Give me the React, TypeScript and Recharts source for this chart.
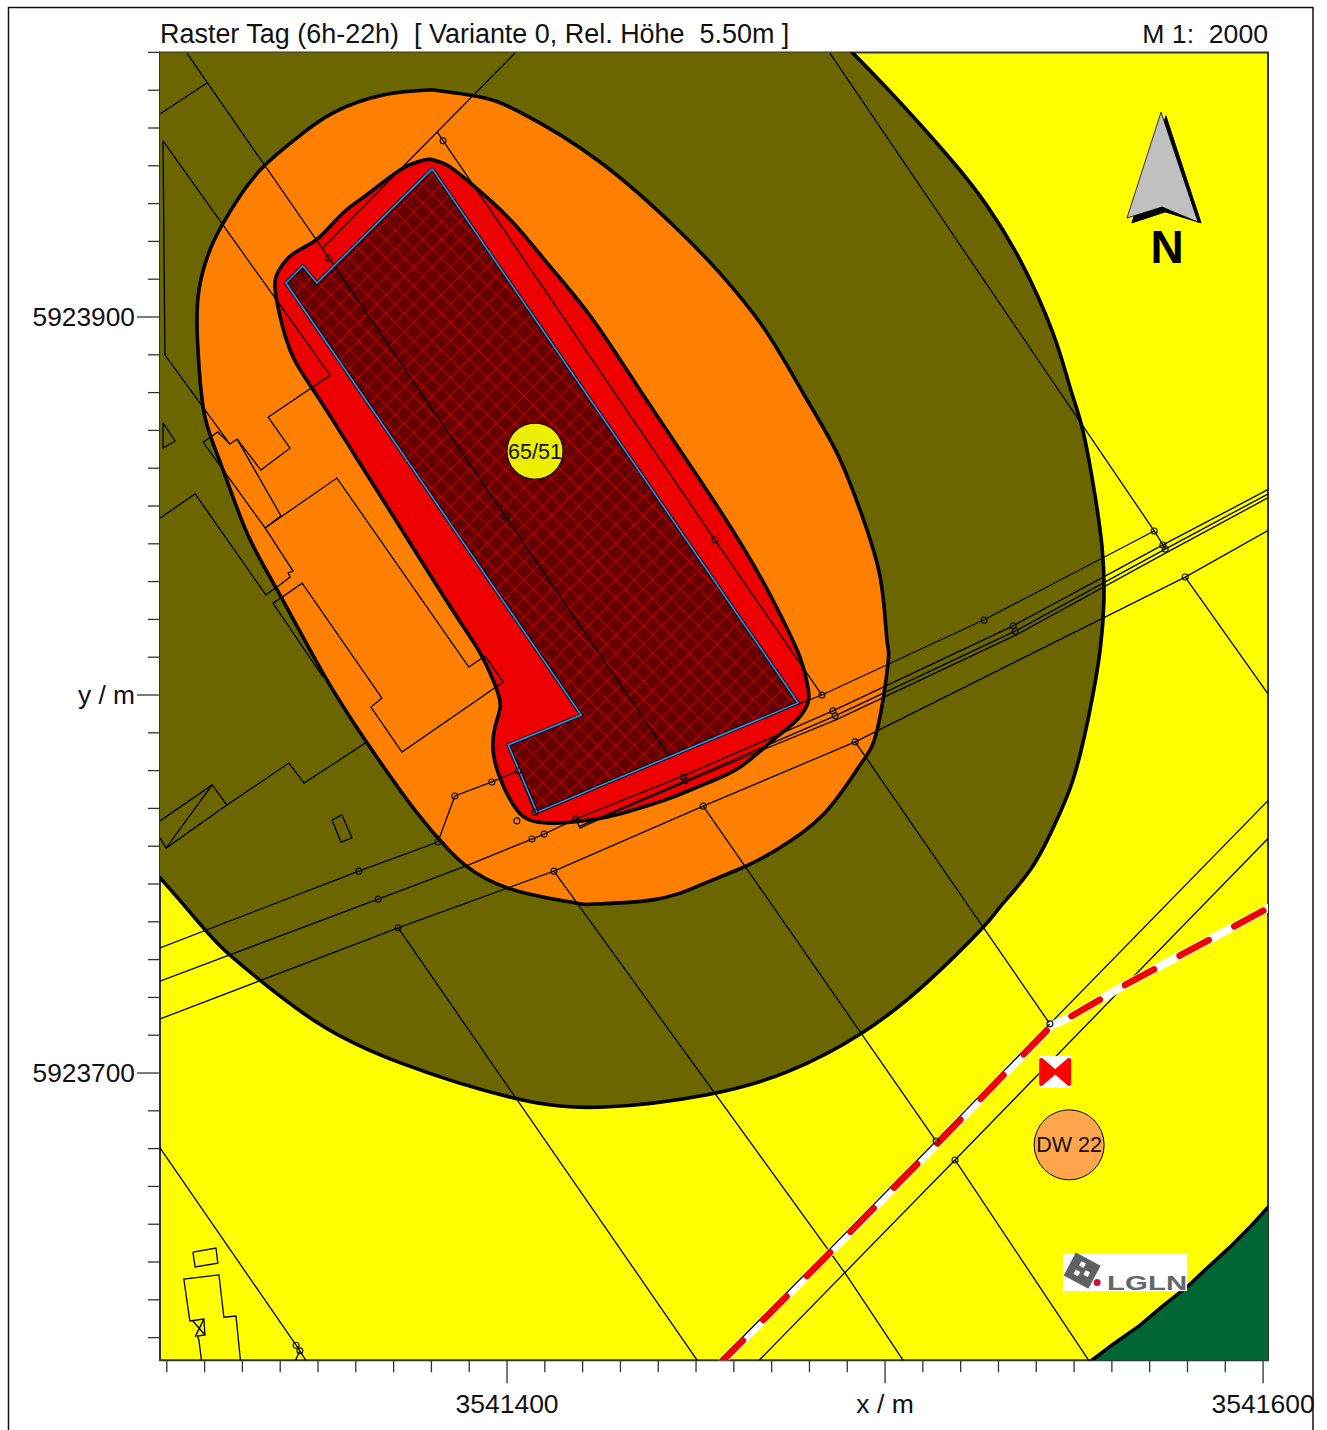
import { ScatterChart, Scatter, XAxis, YAxis, ReferenceDot, ReferenceArea, Label } from "recharts"

type Pt = [number, number]

// Gauss-Krueger metres, given relative to these two bases
const E0 = 3541000
const N0 = 5923000

const xTicks = [
  310, 320, 330, 340, 350, 360, 370, 380, 390, 400, 410, 420, 430, 440, 450,
  460, 470, 480, 490, 500, 510, 520, 530, 540, 550, 560, 570, 580, 590, 600,
].map((v) => E0 + v)
const yTicks = [
  970, 960, 950, 940, 930, 920, 910, 900, 890, 880, 870, 860, 850, 840, 830, 820, 810, 800,
  790, 780, 770, 760, 750, 740, 730, 720, 710, 700, 690, 680, 670, 660, 650, 640, 630,
].map((v) => N0 + v)
const xLabels: Record<number, string> = { 3541400: "3541400", 3541500: "x / m", 3541600: "3541600" }
const yLabels: Record<number, string> = { 5923900: "5923900", 5923800: "y / m", 5923700: "5923700" }

// noise contour bands
const oliveZone: Pt[] = [
  [483.0, 978.0], [491.5, 969.8], [503.4, 957.4], [518.0, 941.0], [527.0, 929.4], [535.7, 915.1],
  [544.4, 895.8], [548.9, 881.5], [552.1, 870.9], [555.0, 856.1], [557.4, 839.2], [557.9, 825.1],
  [556.9, 811.9], [554.2, 796.0], [549.7, 777.5], [544.2, 764.3], [538.4, 753.7], [530.4, 743.9],
  [525.7, 738.3], [510.9, 723.8], [493.9, 710.6], [474.1, 700.3], [452.6, 694.2], [425.8, 691.0],
  [401.7, 693.4], [372.0, 702.6], [350.8, 712.7], [335.2, 724.1], [326.7, 731.2], [320.2, 737.8],
  [308.2, 751.6], [302.9, 757.7], [290.0, 800.0], [290.0, 900.0], [295.0, 975.0], [350.0, 985.0],
  [430.0, 985.0], [483.0, 978.0],
]
const orangeZone: Pt[] = [
  [380.2, 960.1], [392.9, 958.2], [403.4, 954.2], [424.6, 941.0], [445.8, 922.5], [456.3, 911.6],
  [467.7, 897.4], [478.3, 879.9], [487.3, 864.0], [493.4, 848.9], [498.7, 831.2], [500.5, 814.5],
  [500.8, 808.5], [497.9, 790.7], [493.4, 781.5], [483.6, 768.3], [471.2, 759.0], [462.7, 754.5],
  [451.1, 749.7], [438.6, 745.8], [423.0, 744.7], [418.0, 745.0], [400.3, 748.9], [388.9, 755.0],
  [384.6, 759.0], [376.2, 768.8], [363.0, 787.3], [351.3, 805.8], [339.2, 827.8], [331.2, 842.9],
  [324.6, 860.3], [320.1, 873.5], [318.5, 887.3], [318.0, 897.4], [318.5, 907.1], [320.9, 916.4],
  [324.6, 924.3], [329.9, 932.8], [336.0, 940.2], [344.7, 947.6], [354.0, 954.0], [367.2, 958.7],
  [380.2, 960.1],
]
const redZone: Pt[] = [
  [379.6, 941.8], [384.1, 940.2], [389.4, 936.2], [396.3, 930.2], [403.4, 923.0], [412.2, 912.4],
  [422.8, 899.2], [437.8, 876.7], [456.3, 848.9], [467.5, 830.4], [473.0, 819.8], [477.5, 810.0],
  [479.6, 802.1], [479.6, 797.9], [476.7, 793.4], [470.4, 788.1], [461.6, 780.9], [452.9, 776.7],
  [443.9, 773.0], [435.2, 770.1], [426.5, 767.7], [417.5, 766.4], [411.4, 766.1], [406.1, 766.9],
  [402.6, 769.6], [399.5, 774.9], [397.4, 780.2], [396.3, 785.4], [396.8, 791.5], [398.2, 796.8],
  [397.6, 800.5], [396.3, 804.0], [392.9, 811.1], [386.8, 820.6], [377.0, 836.0], [367.2, 851.6],
  [358.7, 865.1], [350.0, 878.8], [343.4, 889.4], [340.0, 900.0], [338.6, 907.9], [339.4, 911.9],
  [342.1, 915.6], [346.0, 918.3], [350.5, 921.2], [356.6, 927.5], [361.1, 931.0], [365.6, 934.4],
  [371.7, 938.9], [376.2, 941.0], [379.6, 941.8],
]
const greenZone: Pt[] = [
  [552.9, 622.5], [554.8, 624.1], [560.8, 628.6], [567.5, 633.3], [573.5, 638.4], [579.9, 643.4],
  [585.5, 648.7], [591.3, 654.0], [596.6, 659.3], [601.3, 664.5], [607.1, 670.4], [607.1, 618.8],
  [551.6, 618.8], [552.9, 622.5],
]
const building: Pt[] = [
  [380.2, 939.2], [477.0, 797.9], [407.9, 769.0], [400.3, 786.8], [419.6, 794.7], [341.5, 909.0],
  [346.0, 913.5], [349.7, 909.0], [380.2, 939.2],
]

const railway: Pt[] = [
  [607.1, 746.6], [601.3, 743.6], [576.7, 730.4], [563.5, 723.3], [548.9, 714.8], [544.1, 712.6],
  [530.9, 699.0], [514.0, 681.5], [483.8, 650.8], [456.8, 623.6], [451.6, 618.0],
]
const railwayAxis: Pt[] = [[543.6, 713.0], [530.4, 699.5], [513.5, 682.0], [483.3, 651.3], [456.3, 624.1], [451.1, 618.5]]

// cadastre
const parcelLines: Pt[][] = [
  [[315.3, 969.8], [352.9, 915.6], [399.7, 847.1], [443.1, 783.6]],
  [[308.2, 953.7], [320.6, 961.9]],
  [[309.0, 946.6], [353.2, 884.6], [336.8, 873.5], [342.6, 865.3], [334.9, 859.5], [328.6, 867.7], [326.7, 866.4], [323.5, 869.6], [319.6, 866.9], [336.0, 844.2]],
  [[309.0, 946.6], [309.5, 890.0], [326.7, 866.4]],
  [[328.6, 867.7], [340.2, 847.4], [336.0, 844.2]],
  [[336.0, 844.2], [355.0, 857.4], [389.9, 807.4], [394.2, 810.3], [399.0, 803.4], [372.2, 784.9], [364.0, 796.8], [366.9, 799.2], [345.8, 829.6], [340.5, 825.9]],
  [[336.0, 844.2], [343.4, 832.8], [342.1, 832.3], [342.6, 831.2], [339.2, 828.6]],
  [[340.5, 825.9], [338.1, 824.3], [351.3, 804.8]],
  [[308.2, 846.8], [317.5, 853.2], [336.2, 826.5], [339.2, 828.6]],
  [[308.2, 766.7], [322.0, 776.2], [325.9, 770.9], [342.3, 782.0], [346.3, 776.7], [363.0, 787.6]],
  [[308.2, 762.2], [309.8, 759.5], [322.0, 776.2]],
  [[309.8, 759.5], [325.9, 770.9]],
  [[309.0, 872.0], [312.2, 867.2], [309.0, 865.3], [309.0, 872.0]],
  [[353.7, 766.9], [356.3, 768.3], [359.0, 762.2], [356.1, 761.1], [353.7, 766.9]],
  [[402.1, 969.8], [351.3, 918.3]],
  [[381.5, 949.0], [455.0, 841.0], [483.3, 800.0]],
  [[477.0, 797.6], [483.3, 800.0], [526.2, 819.9], [571.2, 843.4]],
  [[485.4, 969.8], [571.2, 843.4], [573.5, 839.7], [574.1, 838.6]],
  [[607.1, 857.4], [573.5, 839.7], [533.9, 818.3], [486.2, 795.8], [446.6, 778.6], [418.2, 767.2], [409.8, 763.2], [406.6, 761.9], [389.7, 755.0], [365.9, 746.0], [308.2, 724.3]],
  [[607.1, 856.3], [574.1, 838.6], [534.4, 816.9], [486.8, 794.5], [447.1, 777.3], [419.3, 765.3]],
  [[607.1, 855.3], [574.3, 837.6], [534.7, 815.9], [487.0, 793.4], [463.0, 783.6], [428.0, 768.8], [419.3, 764.8], [418.2, 767.2]],
  [[607.1, 846.8], [579.4, 831.2], [492.1, 787.6], [451.9, 770.6], [412.4, 753.4], [371.2, 738.4], [308.2, 714.3]],
  [[308.2, 733.1], [360.8, 753.4], [381.7, 761.1], [386.2, 773.3], [396.0, 777.0], [402.9, 779.9], [407.4, 769.0]],
  [[492.1, 787.6], [543.6, 713.0]],
  [[451.9, 770.6], [513.5, 682.0]],
  [[412.4, 753.4], [489.4, 647.1], [507.9, 619.3]],
  [[371.2, 738.4], [455.0, 617.2]],
  [[304.2, 686.0], [344.2, 628.0], [345.2, 626.5], [348.4, 621.4]],
  [[342.6, 620.9], [345.2, 626.5]],
  [[518.5, 677.0], [558.2, 617.5]],
  [[461.6, 618.8], [518.5, 677.0], [607.1, 768.0]],
  [[543.6, 713.0], [607.1, 778.0]],
  [[579.4, 831.2], [607.1, 792.1]],
  [[316.9, 652.6], [323.0, 653.7], [323.5, 649.7], [317.5, 648.7], [316.9, 652.6]],
  [[319.3, 622.8], [318.5, 629.4], [318.1, 630.4], [320.1, 630.7], [319.8, 634.9], [316.1, 634.4], [314.5, 645.5], [323.8, 646.6], [325.1, 635.4], [328.3, 635.7], [329.6, 622.8]],
  [[316.9, 634.4], [320.1, 630.7]],
  [[319.8, 634.9], [317.5, 630.2]],
]
const parcelNodes: Pt[] = [
  [383.1, 946.6], [352.9, 915.6], [399.7, 847.1], [455.0, 841.0], [483.3, 800.0], [526.2, 819.8],
  [571.2, 843.4], [573.5, 839.7], [574.1, 838.6], [533.9, 818.3], [534.4, 816.9], [579.4, 831.2],
  [486.2, 795.8], [486.8, 794.5], [492.1, 787.6], [446.6, 778.3], [447.1, 777.3], [451.9, 770.6],
  [412.4, 753.4], [406.6, 761.9], [409.8, 763.2], [402.6, 766.7], [418.2, 767.2], [407.4, 769.0],
  [402.9, 779.9], [396.0, 777.0], [386.2, 773.3], [381.7, 761.1], [360.8, 753.4], [365.9, 746.0],
  [371.2, 738.4], [513.5, 682.0], [543.6, 713.0], [518.5, 677.0], [344.2, 628.0], [345.2, 626.5],
]

const arrowShadow: Pt[] = [[574.3, 953.2], [565.3, 924.9], [574.1, 927.8], [583.6, 924.9], [574.3, 953.2]]
const arrowBody: Pt[] = [[573.0, 954.2], [564.0, 926.2], [573.3, 929.1], [582.8, 925.1], [573.0, 954.2]]

const toData = (pts: Pt[]) => pts.map(([e, n]) => ({ x: E0 + e, y: N0 + n }))
const at = (e: number, n: number) => ({ x: E0 + e, y: N0 + n })

const FONT = "'Liberation Sans', Arial, sans-serif"
const AXIS_COLOR = "#333333"

const noDot = () => <g />
const NodeDot = (p: any) => <circle cx={p.cx} cy={p.cy} r={3} fill="none" stroke="#111" strokeWidth={1.1} />

const outline = (key: string, pts: Pt[], line: Record<string, unknown>, joint: any = "linear") => (
  <Scatter key={key} data={toData(pts)} line={line} lineJointType={joint} shape={noDot} isAnimationActive={false} />
)

const XTick = (p: any) => {
  const label = xLabels[p.payload.value]
  return (
    <g>
      <line x1={p.x} x2={p.x} y1={p.y} y2={p.y + (label ? 23 : 12)} stroke={AXIS_COLOR} strokeWidth={1.3} />
      {label && (
        <text x={p.x} y={p.y + 53} textAnchor="middle" fontSize={26.5} fontFamily={FONT} fill="#111">
          {label}
        </text>
      )}
    </g>
  )
}

const YTick = (p: any) => {
  const label = yLabels[p.payload.value]
  return (
    <g>
      <line x1={p.x} x2={p.x - (label ? 23 : 12)} y1={p.y} y2={p.y} stroke={AXIS_COLOR} strokeWidth={1.3} />
      {label && (
        <text x={p.x - 25} y={p.y + 9} textAnchor="end" fontSize={26.3} fontFamily={FONT} fill="#111">
          {label}
        </text>
      )}
    </g>
  )
}

const SignalIcon = (p: any) => (
  <g transform={`translate(${p.cx},${p.cy})`}>
    <rect x={-16} y={-16} width={32} height={32} fill="#fff" />
    <path d="M-14 -12 L0 0 L-14 12 Z M14 -12 L0 0 L14 12 Z" fill="#f00" stroke="#f00" strokeWidth={4} strokeLinejoin="round" />
  </g>
)

const LglnLogo = (p: any) => (
  <g transform={`translate(${p.cx},${p.cy})`}>
    <rect x={-62} y={-18.5} width={124} height={37} fill="#fff" />
    <g transform="translate(-43,-2) rotate(28)">
      <rect x={-14} y={-13} width={28} height={26} fill="#5f6064" />
      <rect x={-5} y={-8} width={5} height={5} fill="#fff" />
      <rect x={3} y={-2} width={5} height={5} fill="#fff" />
      <rect x={-6} y={2} width={5} height={5} fill="#fff" />
    </g>
    <circle cx={-28} cy={10} r={3.5} fill="#d0103a" />
    <text x={-18} y={17} fontSize={21} fontWeight="bold" fontFamily={FONT} fill="#66676b" textLength={80} lengthAdjust="spacingAndGlyphs">
      LGLN
    </text>
  </g>
)

export default function App() {
  return (
    <div style={{ position: "absolute", left: 0, top: 0 }}>
      <ScatterChart width={1327} height={1430} margin={{ top: 52.4, right: 59, bottom: 68.7, left: 159 }}>
        <defs>
          <pattern id="hatch" width={13} height={13} patternUnits="userSpaceOnUse" patternTransform="rotate(45)">
            <rect width={13} height={13} fill="#660000" />
            <path d="M0 0 H13 M0 0 V13" stroke="#e00000" strokeWidth={1.5} />
          </pattern>
        </defs>

        <XAxis
          type="number"
          dataKey="x"
          domain={[3541308.2, 3541601.3]}
          ticks={xTicks}
          interval={0}
          allowDataOverflow
          height={1}
          tickSize={0}
          tickMargin={0}
          axisLine={false}
          tickLine={false}
          tick={XTick}
        />
        <YAxis
          type="number"
          dataKey="y"
          domain={[5923624, 5923970]}
          ticks={yTicks}
          interval={0}
          allowDataOverflow
          width={1}
          tickSize={0}
          tickMargin={0}
          axisLine={false}
          tickLine={false}
          tick={YTick}
        />

        <ReferenceArea x1={3541308.2} x2={3541601.3} y1={5923624} y2={5923970} fill="#ffff00" fillOpacity={1} stroke="none" />

        {outline("olive", oliveZone, { fill: "#6b6600", stroke: "#000", strokeWidth: 3.6 }, "natural")}
        {outline("green", greenZone, { fill: "#006633", stroke: "#000", strokeWidth: 3.6 })}
        {outline("orange", orangeZone, { fill: "#ff8000", stroke: "#000", strokeWidth: 3.6 }, "natural")}
        {outline("red", redZone, { fill: "#ee0000", stroke: "#000", strokeWidth: 3.6 }, "natural")}
        {outline("building", building, { fill: "url(#hatch)", stroke: "#000", strokeWidth: 3.4 })}

        {parcelLines.map((pts, i) => outline(`parcel-${i}`, pts, { fill: "none", stroke: "#000", strokeWidth: 1.3 }))}

        {outline("building-edge", building, { fill: "none", stroke: "#2f8fe6", strokeWidth: 1.7 })}

        {outline("rail-bed", railway, { fill: "none", stroke: "#fff", strokeWidth: 8 })}
        {outline("rail-axis", railwayAxis, { fill: "none", stroke: "#000", strokeWidth: 1.3 })}
        {outline("rail-dash", railway, {
          fill: "none",
          stroke: "#f00000",
          strokeWidth: 6.5,
          strokeLinecap: "round",
          strokeDasharray: "33 29",
          strokeDashoffset: 32,
        })}

        <Scatter data={toData(parcelNodes)} shape={NodeDot} isAnimationActive={false} />

        {outline("arrow-shadow", arrowShadow, { fill: "#000", stroke: "#000", strokeWidth: 1 })}
        {outline("arrow-body", arrowBody, { fill: "#c0c0c0", stroke: "#000", strokeWidth: 0.8 })}

        <ReferenceDot {...at(407.4, 864.5)} r={28} fill="#eeee00" stroke="#000" strokeWidth={1} ifOverflow="visible">
          <Label value="65/51" position="center" fontSize={21.5} fontFamily={FONT} fill="#111" />
        </ReferenceDot>
        <ReferenceDot {...at(548.7, 681.0)} r={35} fill="#ffa64d" stroke="#000" strokeWidth={1} ifOverflow="visible">
          <Label value="DW 22" position="center" fontSize={21.5} fontFamily={FONT} fill="#111" />
        </ReferenceDot>
        <ReferenceDot {...at(545.0, 700.3)} shape={SignalIcon} ifOverflow="visible" />
        <ReferenceDot {...at(563.5, 647.2)} shape={LglnLogo} ifOverflow="visible" />
        <ReferenceDot {...at(574.6, 918.5)} r={0} fill="none" stroke="none" ifOverflow="visible">
          <Label value="N" position="center" fontSize={46} fontWeight="bold" fontFamily={FONT} fill="#000" />
        </ReferenceDot>

        <ReferenceArea x1={3541308.2} x2={3541601.3} y1={5923624} y2={5923970} fill="none" stroke={AXIS_COLOR} strokeWidth={2} />

        <rect x={8.5} y={7.5} width={1304.5} height={1440} fill="none" stroke="#111" strokeWidth={1.5} />
        <text x={160} y={42.5} fontSize={26.95} fontFamily={FONT} fill="#111" style={{ whiteSpace: "pre" }}>
          {"Raster Tag (6h-22h)  [ Variante 0, Rel. Höhe  5.50m ]"}
        </text>
        <text x={1268} y={42.5} textAnchor="end" fontSize={26.6} fontFamily={FONT} fill="#111" style={{ whiteSpace: "pre" }}>
          {"M 1:  2000"}
        </text>
      </ScatterChart>
    </div>
  )
}
